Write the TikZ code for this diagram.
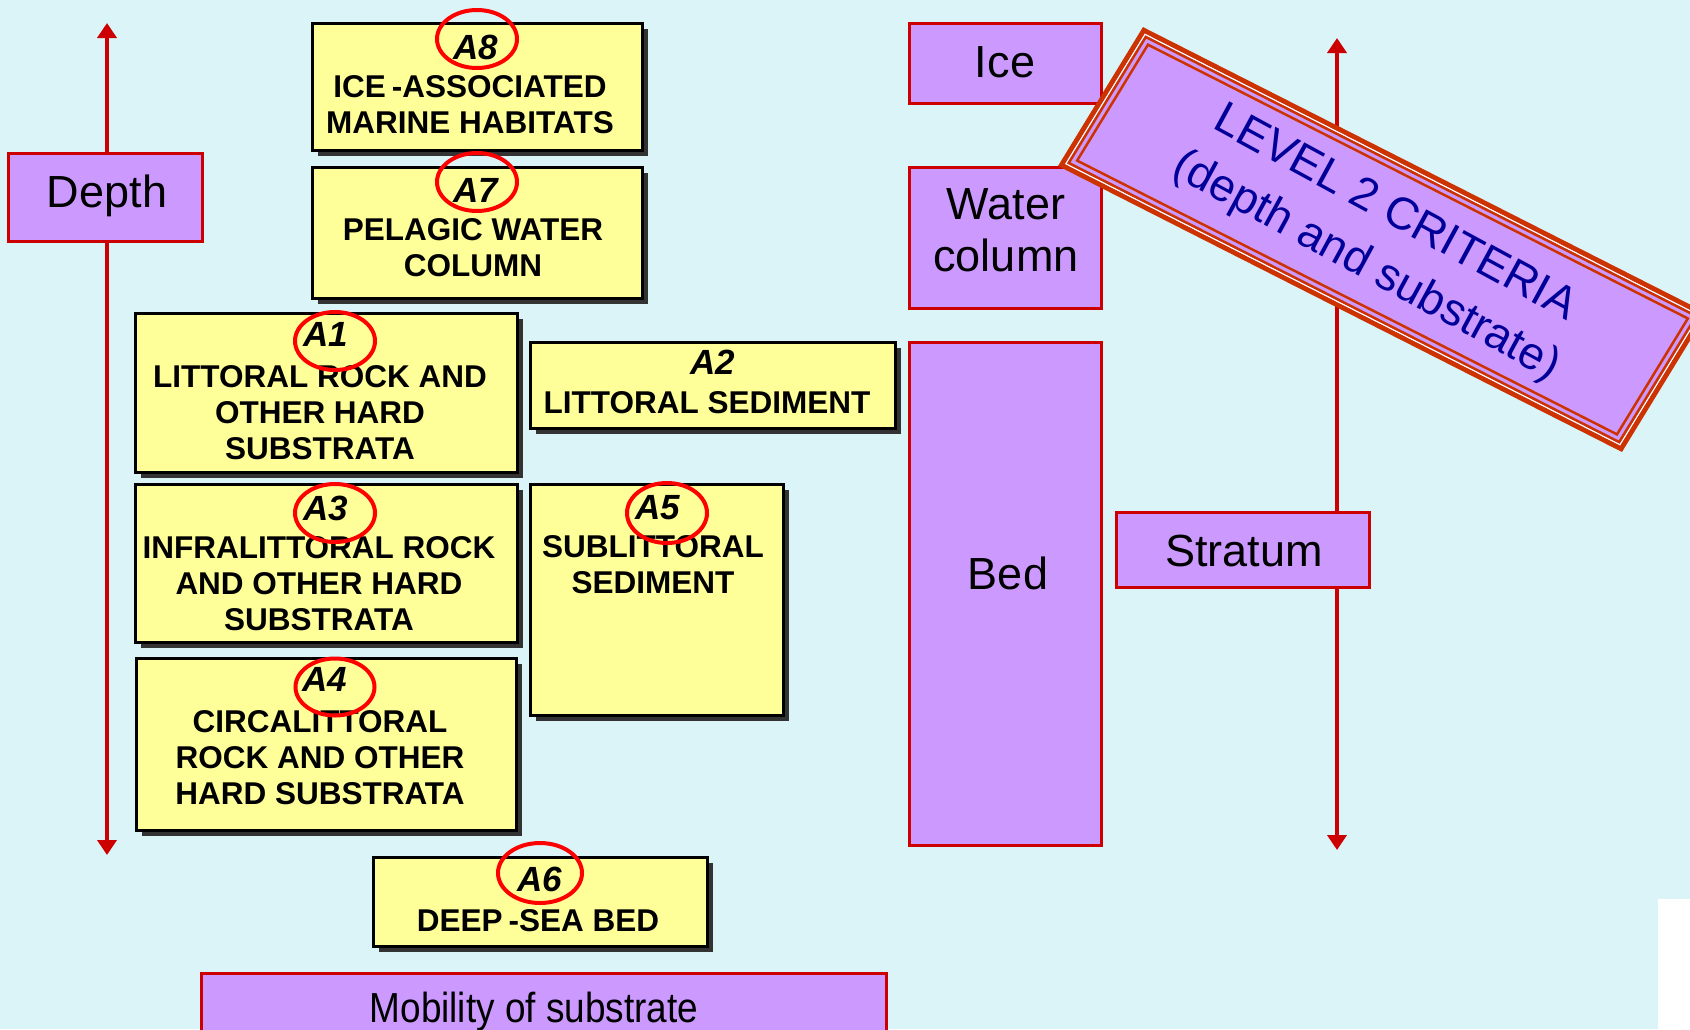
\documentclass[tikz,border=0pt]{standalone}
\usepackage{fontspec}
\setmainfont{Liberation Sans}
\usetikzlibrary{shapes.geometric,shadows,arrows.meta}
\definecolor{bg}{RGB}{219,244,248}
\definecolor{ylw}{RGB}{255,255,153}
\definecolor{prp}{RGB}{204,153,255}
\definecolor{redline}{RGB}{204,0,0}
\definecolor{ringred}{RGB}{255,0,0}
\definecolor{bannerline}{RGB}{204,51,0}
\definecolor{bannertext}{RGB}{0,0,153}
\definecolor{shade}{RGB}{51,51,51}
\begin{document}
\begin{tikzpicture}[x=1pt,y=-1pt,
  ybox/.style={draw=black, line width=3pt, fill=ylw, rectangle, inner sep=0pt, outer sep=0pt,
    drop shadow={shadow xshift=6pt, shadow yshift=-6pt, fill=shade, opacity=1}},
  pbox/.style={draw=redline, line width=3pt, fill=prp, rectangle, inner sep=0pt, outer sep=0pt},
  ring/.style={draw=ringred, line width=4pt, ellipse, inner sep=0pt, outer sep=0pt},
  code/.style={font=\fontsize{35}{40}\selectfont\bfseries\itshape, inner sep=0pt},
  btext/.style={font=\fontsize{31.5}{36}\selectfont\bfseries, align=center, inner sep=0pt},
  ptext/.style={font=\fontsize{45}{52}\selectfont, align=center, inner sep=0pt},
  axisline/.style={draw=redline, line width=4.5pt,
    {Triangle[width=19pt,length=15pt]}-{Triangle[width=19pt,length=15pt]}}
]
\useasboundingbox (0,0) rectangle (1690,1029);
\fill[bg] (0,0) rectangle (1690,1029);
\clip (0,0) rectangle (1690,1029);

% axes
\coordinate (dtop) at (107,23);
\coordinate (dbot) at (107,855);
\coordinate (stop) at (1337,38);
\coordinate (sbot) at (1337,850);
\draw[axisline] (dtop) -- (dbot);
\draw[axisline] (stop) -- (sbot);

% purple boxes
\node[pbox, minimum width=194, minimum height=88] (depth) at (105,197) {};
\node[pbox, minimum width=192, minimum height=80] (ice) at (1005,63) {};
\node[pbox, minimum width=192, minimum height=141] (water) at (1005,237.5) {};
\node[pbox, minimum width=192, minimum height=503] (bed) at (1005,593.5) {};
\node[pbox, minimum width=253, minimum height=75] (stratum) at (1242.5,549.5) {};
\node[pbox, minimum width=685, minimum height=87] (mobility) at (543.5,1016.5) {};

\node[ptext, anchor=base] (tdepth) at (107,207) {Depth};
\node[ptext, anchor=base] (tice) at (1005,77) {Ice};
\node[ptext] (twater) at (1006,230) {Water\\column};
\node[ptext, anchor=base] (tbed) at (1008,589) {Bed};
\node[ptext, anchor=base] (tstratum) at (1244,566) {Stratum};
\node[inner sep=0pt, anchor=base, font=\fontsize{42}{48}\selectfont] (tmob) at (534,1022) {\scalebox{0.88}[1]{Mobility of substrate}};

% banner (slightly skewed frame, drawn in its own axes; vectors in canvas units)
\begin{scope}[shift={(1058,166)}, x={(0.8918pt,-0.4522pt)}, y={(0.5215pt,0.8528pt)}]
  \filldraw[fill=prp, draw=bannerline, line width=5pt, line join=miter]
    (2.5,2.5) -- (629.9,2.5) -- (629.9,160.4) -- (2.5,160.4) -- cycle;
  \draw[white, line width=1.2pt]
    (5.6,5.6) -- (626.8,5.6) -- (626.8,157.3) -- (5.6,157.3) -- cycle;
  \draw[bannerline, line width=2.5pt]
    (7.6,7.6) -- (624.8,7.6) -- (624.8,155.3) -- (7.6,155.3) -- cycle;
  \draw[bannerline, line width=2.5pt]
    (13.5,13.5) -- (618.9,13.5) -- (618.9,149.4) -- (13.5,149.4) -- cycle;
\end{scope}
\node[rotate=-28.5, inner sep=0pt, align=center, text=bannertext, font=\fontsize{45.5}{60}\selectfont] (lvltext) at (1380,241) {LEVEL 2 CRITERIA\\(depth and substrate)};

% yellow boxes
\node[ybox, minimum width=330, minimum height=127] (b8) at (477,86.5) {};
\node[ybox, minimum width=330, minimum height=131] (b7) at (477,232.5) {};
\node[ybox, minimum width=382, minimum height=159] (b1) at (326,392.5) {};
\node[ybox, minimum width=382, minimum height=158] (b3) at (326,563) {};
\node[ybox, minimum width=380, minimum height=172] (b4) at (326,744) {};
\node[ybox, minimum width=365, minimum height=86] (b2) at (712.5,385) {};
\node[ybox, minimum width=253, minimum height=231] (b5) at (656.5,599.5) {};
\node[ybox, minimum width=334, minimum height=89] (b6) at (540,901.5) {};

% codes
\node[code] (a8) at (476,47) {A8};
\node[code] (a7) at (476,190) {A7};
\node[code] (a1) at (326,334.5) {A1};
\node[code] (a3) at (326,508) {A3};
\node[code] (a4) at (325,679) {A4};
\node[code] (a2) at (713,362) {A2};
\node[code] (a5) at (658,508) {A5};
\node[code] (a6) at (540,879) {A6};

% body texts
\node[btext] (t8) at (470,104.5) {ICE\kern6pt-ASSOCIATED\\MARINE HABITATS};
\node[btext] (t7) at (473,247.5) {PELAGIC WATER\\COLUMN};
\node[btext] (t1) at (320,412.5) {LITTORAL ROCK AND\\OTHER HARD\\SUBSTRATA};
\node[btext] (t3) at (319,583.5) {INFRALITTORAL ROCK\\AND OTHER HARD\\SUBSTRATA};
\node[btext] (t4) at (320,758) {CIRCALITTORAL\\ROCK AND OTHER\\HARD SUBSTRATA};
\node[btext] (t2) at (707,403) {LITTORAL SEDIMENT};
\node[btext] (t5) at (653,565) {SUBLITTORAL\\SEDIMENT};
\node[btext] (t6) at (538,921) {DEEP\kern6pt-SEA BED};

% red rings
\node[ring, minimum width=80, minimum height=58] (r8) at (477,39) {};
\node[ring, minimum width=80, minimum height=58] (r7) at (477,182) {};
\node[ring, minimum width=80, minimum height=58] (r1) at (335,341) {};
\node[ring, minimum width=80, minimum height=58] (r3) at (335,513) {};
\node[ring, minimum width=79, minimum height=57] (r4) at (335,687) {};
\node[ring, minimum width=80, minimum height=60] (r5) at (667,513) {};
\node[ring, minimum width=84, minimum height=60] (r6) at (540,873) {};

% white corner
\fill[white] (1658,899) rectangle (1690,1029);
\end{tikzpicture}
\end{document}
